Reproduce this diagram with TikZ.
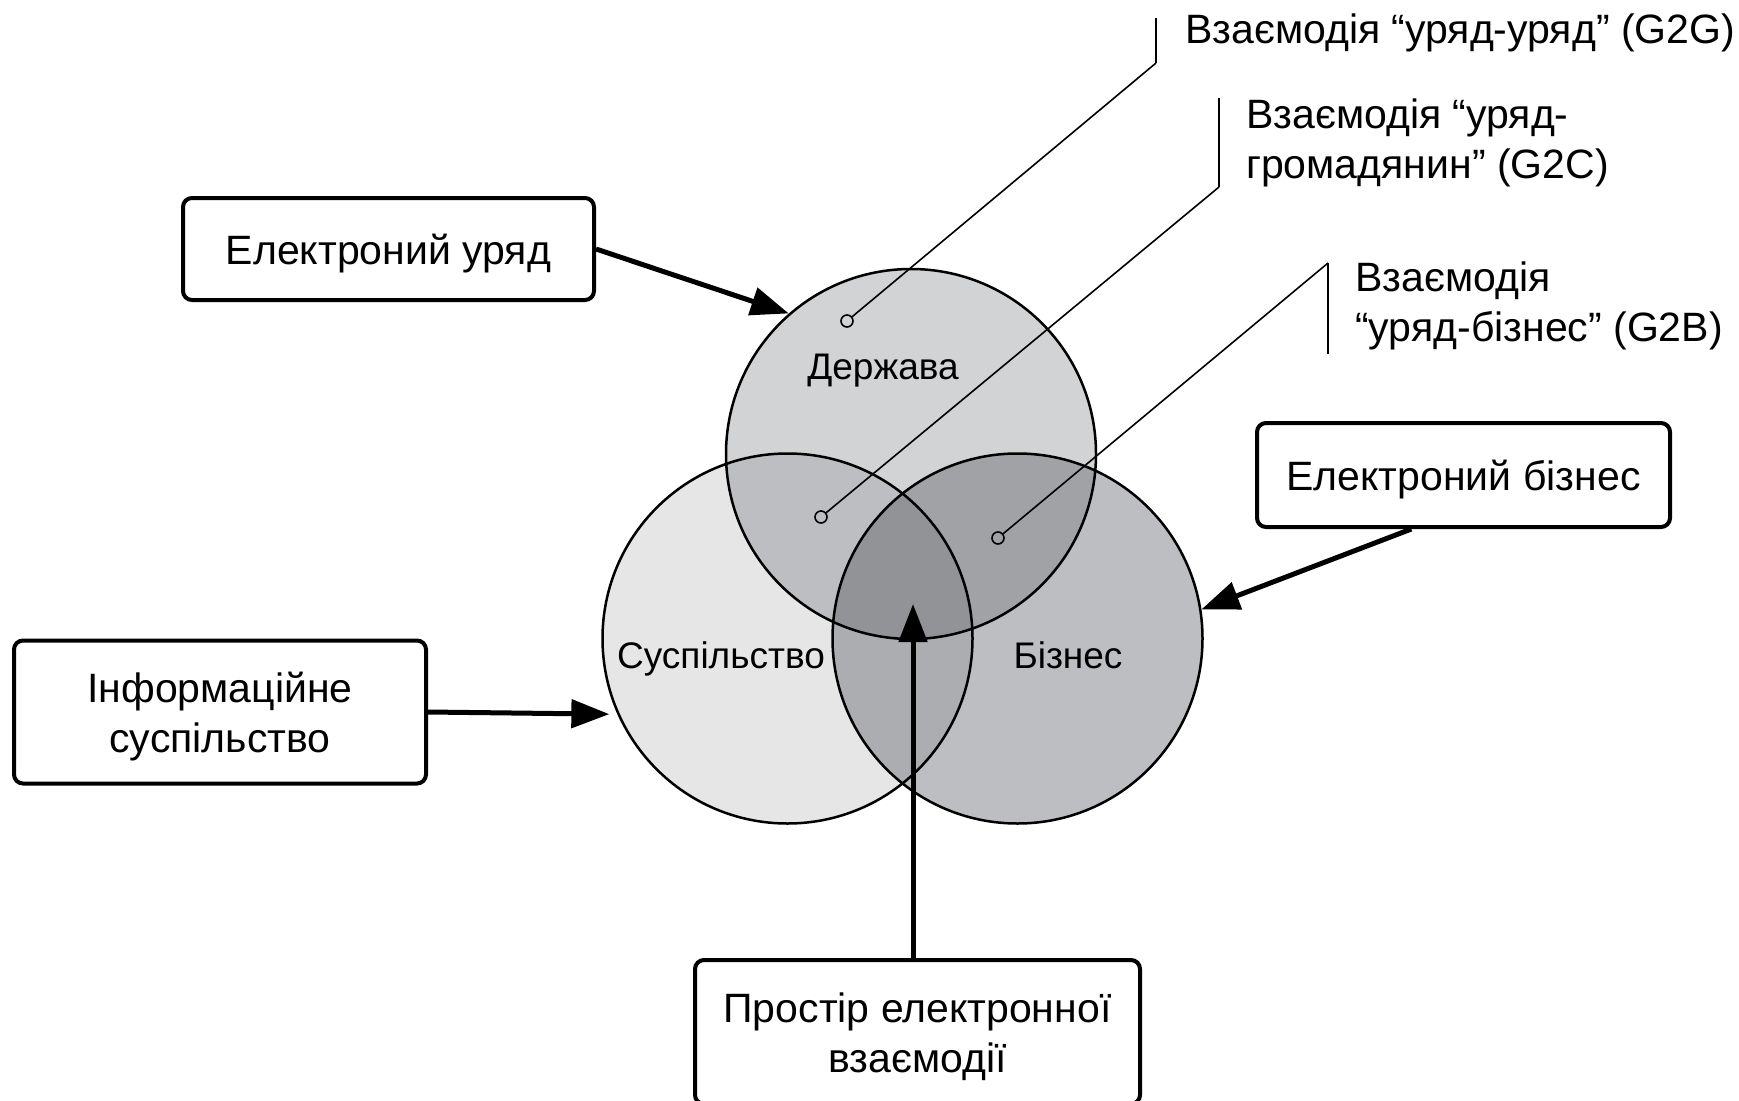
\documentclass[tikz,border=0pt]{standalone}
\usepackage{fontspec}
\setmainfont{Liberation Sans}
\usetikzlibrary{positioning,arrows.meta}

\definecolor{govfill}{HTML}{D2D3D5}
\definecolor{socfill}{HTML}{E6E6E7}
\definecolor{bizfill}{HTML}{BDBEC1}
\definecolor{govsoc}{HTML}{BDBEC1}
\definecolor{govbiz}{HTML}{A1A2A5}
\definecolor{socbiz}{HTML}{ACADB0}
\definecolor{corefill}{HTML}{929396}

\tikzset{
  lbox/.style={draw, line width=4pt, rounded corners=9pt, align=center,
    inner sep=0pt, text depth=0pt, text height=30pt,
    font=\fontsize{41}{50}\selectfont},
  lbox2/.style={lbox, text height=80pt},
  sphere/.style={circle, draw, line width=2.5pt, minimum size=370pt, inner sep=0pt},
  clabel/.style={inner sep=0pt, anchor=base, font=\fontsize{37}{44}\selectfont},
  tag/.style={inner sep=0pt, anchor=base west, align=left,
    font=\fontsize{41}{50}\selectfont},
  dot/.style={circle, draw, line width=1.6pt, inner sep=0pt, minimum size=12pt},
  leader/.style={line width=1.6pt},
  bar/.style={line width=2.6pt},
  bigarrow/.style={line width=5pt, -{Triangle[length=38pt,width=28pt]}},
}

\begin{document}
\begin{tikzpicture}[x=1pt,y=-1pt]
	\useasboundingbox (0,0) rectangle (1739,1100);

	\coordinate (c-gov) at (911,454);
	\coordinate (c-soc) at (787.5,638.5);
	\coordinate (c-biz) at (1017.5,638.5);

	% shaded regions of the three circles
	\fill[socfill] (c-soc) circle[radius=185];
	\fill[bizfill] (c-biz) circle[radius=185];
	\fill[govfill] (c-gov) circle[radius=185];
	\begin{scope}
		\clip (c-soc) circle[radius=185];
		\fill[socbiz] (c-biz) circle[radius=185];
	\end{scope}
	\begin{scope}
		\clip (c-gov) circle[radius=185];
		\fill[govsoc] (c-soc) circle[radius=185];
		\fill[govbiz] (c-biz) circle[radius=185];
		\clip (c-soc) circle[radius=185];
		\fill[corefill] (c-biz) circle[radius=185];
	\end{scope}

	\node[sphere] (gov) at (c-gov) {};
	\node[sphere] (soc) at (c-soc) {};
	\node[sphere] (biz) at (c-biz) {};

	\node[clabel] (gov-t) at (883,379) {Держава};
	\node[clabel] (soc-t) at (721,668) {Суспільство};
	\node[clabel] (biz-t) at (1068,668) {Бізнес};

	% boxes
	\node[lbox, minimum width=411pt, minimum height=102pt] (egov) at (388.5,249) {Електроний уряд};
	\node[lbox2, minimum width=412pt, minimum height=143pt] (info) at (220,712) {Інформаційне\\суспільство};
	\node[lbox, minimum width=413pt, minimum height=104pt] (ebiz) at (1463.5,475) {Електроний бізнес};
	\node[lbox2, minimum width=445pt, minimum height=144pt] (space) at (917.5,1032) {Простір електронної\\взаємодії};

	\coordinate (core) at (913,604);

	\draw[bigarrow] (egov.east) -- (gov.131);
	\draw[bigarrow, shorten >=8pt] (info.east) -- (soc.204);
	\draw[bigarrow] (ebiz.226) -- (biz.9);
	\draw[bigarrow] (core |- space.north) -- (core);

	% leaders to the interaction labels
	\node[dot] (m-g2g) at (847,321) {};
	\node[dot] (m-g2c) at (821,517) {};
	\node[dot] (m-g2b) at (998,538) {};

	\coordinate (g2g-b) at (1156,63);
	\coordinate (g2g-t) at (1156,18);
	\coordinate (g2c-b) at (1219,187);
	\coordinate (g2c-t) at (1219,98);
	\coordinate (g2b-t) at (1328,263);
	\coordinate (g2b-b) at (1328,354);

	\draw[leader] (m-g2g) -- (g2g-b);
	\draw[bar] (g2g-b) -- (g2g-t);
	\draw[leader] (m-g2c) -- (g2c-b);
	\draw[bar] (g2c-b) -- (g2c-t);
	\draw[leader] (m-g2b) -- (g2b-t);
	\draw[bar] (g2b-t) -- (g2b-b);

	\node[tag] (g2g) at (1185,43) {Взаємодія “уряд-уряд” (G2G)};
	\node[tag] (g2c) at (1246,178) {Взаємодія “уряд-\\громадянин” (G2C)};
	\node[tag] (g2b) at (1355,341) {Взаємодія\\“уряд-бізнес” (G2B)};
\end{tikzpicture}
\end{document}
